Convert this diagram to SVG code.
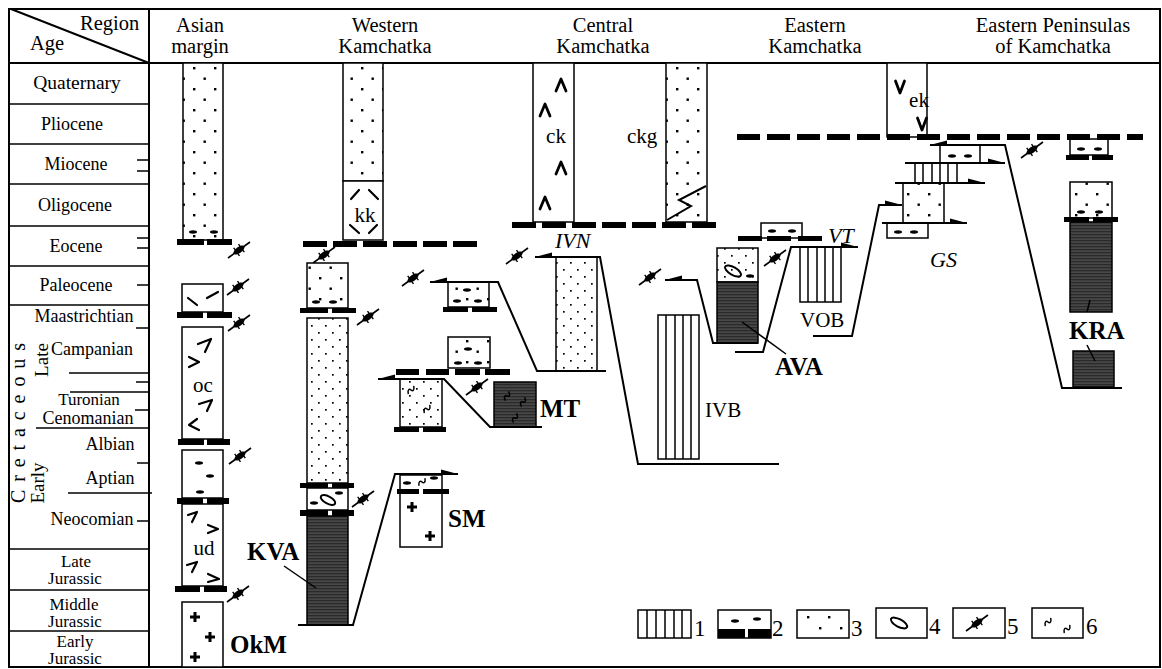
<svg xmlns="http://www.w3.org/2000/svg" width="1162" height="669" viewBox="0 0 1162 669">
<defs>
<style>
.t{font-family:"Liberation Serif","Times New Roman",serif;fill:#000}
.h{font-size:20.5px}
.a{font-size:18px}
.a2{font-size:17px}
.c{font-size:21px}
.b{font-size:25px;font-weight:bold}
.i{font-size:22px;font-style:italic}
.lg{font-size:23px}
.ln{fill:none;stroke:#000;stroke-width:2}
.bx{fill:#fff;stroke:#000;stroke-width:1.5}
.dc{fill:url(#dotC);stroke:#000;stroke-width:1.5}
.df{fill:url(#dotF);stroke:#000;stroke-width:1.5}
.dk{fill:url(#dark);stroke:#000;stroke-width:1.5}
.st{stroke:#000;stroke-width:1.5}
.mk{fill:none;stroke:#000;stroke-width:2.2;stroke-linecap:round;stroke-linejoin:round}
.mk2{fill:none;stroke:#000;stroke-width:2.8;stroke-linecap:round;stroke-linejoin:round}
.wv{fill:none;stroke:#000;stroke-width:1.5;stroke-linecap:round}
.pl{fill:none;stroke:#000;stroke-width:3}
.dsh{stroke:#000;stroke-width:6}
</style>
<pattern id="dotC" patternUnits="userSpaceOnUse" width="21" height="21"><rect width="21" height="21" fill="#fff"/><rect x="4" y="4" width="2.4" height="2.4" fill="#000"/><rect x="14.5" y="14.5" width="2.4" height="2.4" fill="#000"/></pattern>
<pattern id="dotF" patternUnits="userSpaceOnUse" width="14" height="14"><rect width="14" height="14" fill="#fff"/><rect x="3" y="3" width="1.7" height="1.7" fill="#000"/><rect x="10" y="10" width="1.7" height="1.7" fill="#000"/></pattern>
<pattern id="dark" patternUnits="userSpaceOnUse" width="4" height="3"><rect width="4" height="3" fill="#474747"/><rect width="4" height="1.3" fill="#2a2a2a"/></pattern>
<g id="flt"><line x1="-11" y1="8" x2="11" y2="-8" stroke="#000" stroke-width="1.6"/><ellipse rx="6.5" ry="3" transform="rotate(-36)" fill="#000"/><line x1="-5.3" y1="-2.2" x2="0.5" y2="5.8" stroke="#000" stroke-width="1.4"/><line x1="-0.5" y1="-5.8" x2="5.3" y2="2.2" stroke="#000" stroke-width="1.4"/></g>
<path id="hr" d="M0,0 L-17,-4.5 L-17,0.8Z" fill="#000"/>
<path id="hl" d="M0,0 L17,-4.5 L17,0.8Z" fill="#000"/>
<ellipse id="len" rx="4" ry="1.7" fill="#000"/>
<path id="car" d="M-5,6 L0,-6 L5,6" class="mk2"/>
<path id="vee" d="M-4.5,-6 L0,6 L4.5,-6" class="mk2"/>
<path id="wav" d="M-4,2 C-3,-2 -1,-2 0,0 C1,2 3,2 4,-2" class="wv"/>
<path id="plus" d="M-5,0 H5 M0,-5 V5" class="pl"/>
</defs>

<g id="frame">
<rect x="9" y="9" width="1151" height="658" fill="none" stroke="#000" stroke-width="2"/>
<line x1="9" y1="63" x2="1160" y2="63" class="ln"/>
<line x1="149" y1="9" x2="149" y2="667" class="ln"/>
<line x1="11" y1="9" x2="149" y2="63" class="ln"/>
<text class="t h" x="80" y="30">Region</text>
<text class="t h" x="30" y="50">Age</text>
</g>

<g id="age-scale" class="st">
<line x1="9" y1="104" x2="149" y2="104"/>
<line x1="9" y1="144" x2="149" y2="144"/>
<line x1="9" y1="184" x2="149" y2="184"/>
<line x1="9" y1="226" x2="149" y2="226"/>
<line x1="9" y1="266" x2="149" y2="266"/>
<line x1="9" y1="305" x2="149" y2="305"/>
<line x1="9" y1="549" x2="149" y2="549"/>
<line x1="9" y1="590" x2="149" y2="590"/>
<line x1="9" y1="631" x2="149" y2="631"/>
<line x1="137" y1="160" x2="149" y2="160"/>
<line x1="137" y1="171" x2="149" y2="171"/>
<line x1="137" y1="238" x2="149" y2="238"/>
<line x1="137" y1="248" x2="149" y2="248"/>
<line x1="137" y1="285" x2="149" y2="285"/>
<line x1="136" y1="328" x2="149" y2="328"/>
<line x1="69" y1="373" x2="149" y2="373"/>
<line x1="136" y1="382" x2="149" y2="382"/>
<line x1="70" y1="392" x2="149" y2="392"/>
<line x1="135" y1="410" x2="149" y2="410"/>
<line x1="36" y1="428" x2="149" y2="428"/>
<line x1="137" y1="463" x2="149" y2="463"/>
<line x1="68" y1="493" x2="152" y2="493"/>
<line x1="137" y1="521" x2="149" y2="521"/>
</g>
<g id="age-labels" class="t a" text-anchor="middle">
<text x="77" y="89" font-size="19.5">Quaternary</text>
<text x="72" y="130">Pliocene</text>
<text x="76" y="170">Miocene</text>
<text x="75" y="211">Oligocene</text>
<text x="76" y="252">Eocene</text>
<text x="76" y="291">Paleocene</text>
<text x="84" y="322">Maastrichtian</text>
<text x="92" y="355">Campanian</text>
<text x="89" y="405" class="a2">Turonian</text>
<text x="88" y="424">Cenomanian</text>
<text x="110" y="450">Albian</text>
<text x="110" y="484">Aptian</text>
<text x="92" y="525">Neocomian</text>
<text x="76" y="567" class="a2">Late</text>
<text x="75" y="584" class="a2">Jurassic</text>
<text x="74" y="610" class="a2">Middle</text>
<text x="75" y="627" class="a2">Jurassic</text>
<text x="75" y="647" class="a2">Early</text>
<text x="75" y="664" class="a2">Jurassic</text>
<text transform="translate(25,423) rotate(-90)" font-size="20" textLength="160" lengthAdjust="spacing">C r e t a c e o u s</text>
<text transform="translate(48,360) rotate(-90)" font-size="19">Late</text>
<text transform="translate(44,483) rotate(-90)" font-size="19">Early</text>
</g>

<g id="region-headers" class="t h" text-anchor="middle">
<text x="200" y="32">Asian</text>
<text x="200" y="53">margin</text>
<text x="385" y="32">Western</text>
<text x="385" y="53">Kamchatka</text>
<text x="603" y="32">Central</text>
<text x="603" y="53">Kamchatka</text>
<text x="815" y="32">Eastern</text>
<text x="815" y="53">Kamchatka</text>
<text x="1053" y="32">Eastern Peninsulas</text>
<text x="1053" y="53">of Kamchatka</text>
</g>

<g id="asian-margin">
<rect x="183" y="63" width="40" height="177" class="dc"/>
<use href="#len" x="193" y="232"/><use href="#len" x="214" y="232"/>
<rect x="177" y="239" width="27" height="6"/><rect x="207" y="239" width="25" height="6"/>
<use href="#flt" x="239" y="250"/>
<rect x="182" y="284" width="41" height="28" class="bx"/>
<path d="M188,298 L197,305 M207,298 L218,292" class="mk"/>
<rect x="177" y="312" width="26" height="6"/><rect x="207" y="312" width="25" height="6"/>
<use href="#flt" x="238" y="287"/>
<use href="#flt" x="239" y="323"/>
<rect x="182" y="327" width="41" height="112" class="bx"/>
<path d="M198,344 L211,339 L205,352 M189,357 L199,362 L189,367 M199,404 L212,400 L207,411 M199,430 L189,425 L197,419" class="mk"/>
<text class="t c" x="203" y="392" text-anchor="middle">oc</text>
<rect x="178" y="439" width="26" height="6"/><rect x="207" y="439" width="23" height="6"/>
<use href="#flt" x="240" y="456"/>
<rect x="182" y="450" width="41" height="48" class="bx"/>
<use href="#len" x="199" y="463"/><use href="#len" x="210" y="476"/><use href="#len" x="200" y="492"/>
<rect x="177" y="498" width="26" height="6"/><rect x="207" y="498" width="22" height="6"/>
<rect x="182" y="504" width="41" height="82" class="bx"/>
<path d="M188,515 L197,512 L192,522 M208,525 L218,529 L208,533 M187,565 L197,562 L192,572 M208,574 L219,579 L208,582" class="mk"/>
<text class="t c" x="204" y="555" text-anchor="middle">ud</text>
<rect x="175" y="586" width="25" height="6"/><rect x="204" y="586" width="23" height="6"/>
<use href="#flt" x="238" y="594"/>
<rect x="182" y="602" width="41" height="65" class="bx"/>
<use href="#plus" x="195" y="617"/><use href="#plus" x="210" y="637"/><use href="#plus" x="195" y="657"/>
<text class="t b" x="230" y="653">OkM</text>
</g>

<g id="western-kamchatka">
<rect x="343" y="63" width="40" height="118" class="dc"/>
<rect x="343" y="181" width="40" height="59" class="bx"/>
<path d="M351,199 L359,190 M369,190 L378,199 M350,225 L359,233 M369,233 L377,225" class="mk"/>
<text class="t c" x="365" y="222" text-anchor="middle">kk</text>
<use href="#flt" x="324" y="255"/>
<rect x="307" y="263" width="41" height="45" class="dc"/>
<use href="#len" x="316" y="302"/><use href="#len" x="333" y="302"/>
<rect x="300" y="308" width="28" height="5"/><rect x="332" y="308" width="24" height="5"/>
<use href="#flt" x="368" y="317"/>
<rect x="307" y="318" width="41" height="165" class="df"/>
<rect x="300" y="483" width="28" height="5"/><rect x="332" y="483" width="22" height="5"/>
<rect x="307" y="488" width="41" height="22" class="bx"/>
<ellipse cx="328" cy="500" rx="8" ry="3.6" transform="rotate(28 328 500)" fill="none" stroke="#000" stroke-width="2"/>
<use href="#len" x="314" y="503"/><use href="#len" x="339" y="493"/>
<rect x="300" y="510" width="28" height="6"/><rect x="332" y="510" width="22" height="6"/>
<use href="#flt" x="363" y="499"/>
<rect x="307" y="516" width="41" height="109" class="dk"/>
<text class="t b" x="247" y="560">KVA</text>
<line x1="284" y1="566" x2="316" y2="588" class="st"/>
</g>

<g id="sm">
<rect x="400" y="475" width="42" height="72" class="bx"/>
<use href="#len" x="407" y="483"/><use href="#wav" x="422" y="482" transform="rotate(-20 422 482)"/><use href="#len" x="434" y="478"/>
<rect x="397" y="489" width="22" height="5"/><rect x="423" y="489" width="26" height="5"/>
<use href="#plus" x="412" y="507"/><use href="#plus" x="430" y="536"/>
<text class="t b" x="448" y="527">SM</text>
</g>

<g id="staircase-mt">
<use href="#flt" x="413" y="278"/>
<rect x="448" y="282" width="41" height="25" class="dc"/>
<use href="#len" x="467" y="290"/><use href="#len" x="457" y="301"/><use href="#len" x="478" y="301"/>
<rect x="443" y="307" width="25" height="5"/><rect x="472" y="307" width="25" height="5"/>
<rect x="448" y="337" width="42" height="31" class="dc"/>
<use href="#len" x="468" y="349"/><use href="#len" x="458" y="363"/><use href="#len" x="478" y="363"/>
<rect x="396" y="369" width="23" height="6"/><rect x="426" y="369" width="23" height="6"/><rect x="455" y="369" width="25" height="6"/><rect x="485" y="369" width="25" height="6"/>
<rect x="400" y="379" width="42" height="48" class="df"/>
<use href="#wav" x="411" y="390" transform="rotate(-25 411 390)"/><use href="#wav" x="427" y="409" transform="rotate(-25 427 409)"/>
<rect x="394" y="427" width="25" height="5"/><rect x="423" y="427" width="23" height="5"/>
<use href="#flt" x="477" y="387"/>
<rect x="494" y="382" width="42" height="45" class="dk"/>
<use href="#wav" x="507" y="396" transform="rotate(-40 507 396)"/><use href="#wav" x="523" y="402" transform="rotate(-40 523 402)"/><use href="#wav" x="515" y="418" transform="rotate(-40 515 418)"/>
<text class="t b" x="540" y="417">MT</text>
</g>

<g id="central-kamchatka">
<rect x="533" y="63" width="41" height="159" class="bx"/>
<use href="#car" x="561" y="85"/><use href="#car" x="545" y="110"/><use href="#car" x="561" y="168"/><use href="#car" x="545" y="203"/>
<text class="t c" x="556" y="143" text-anchor="middle">ck</text>
<rect x="666" y="63" width="41" height="159" class="dc"/>
<path d="M667,220 L691,206 L679,200 L706,186" class="ln" stroke-width="1.6"/>
<text class="t c" x="627" y="143">ckg</text>
<use href="#flt" x="517" y="256"/>
<text class="t i" x="555" y="248">IVN</text>
<rect x="556" y="257" width="41" height="114" class="df"/>
<rect x="658" y="315" width="41" height="144" class="bx"/>
<path d="M666,315 V459 M675,315 V459 M683,315 V459 M691,315 V459" class="st"/>
<text class="t c" x="705" y="417">IVB</text>
</g>

<g id="eastern-kamchatka">
<use href="#flt" x="650" y="277"/>
<rect x="717" y="248" width="41" height="34" class="df"/>
<ellipse cx="733" cy="271" rx="9" ry="3.8" transform="rotate(30 733 271)" fill="none" stroke="#000" stroke-width="2"/>
<use href="#len" x="750" y="276"/>
<rect x="717" y="282" width="41" height="61" class="dk"/>
<rect x="761" y="223" width="41" height="15" class="bx"/>
<use href="#len" x="772" y="231"/><use href="#len" x="792" y="231"/>
<rect x="738" y="236" width="24" height="5"/><rect x="767" y="236" width="24" height="5"/><rect x="798" y="236" width="24" height="5"/>
<use href="#flt" x="775" y="258"/>
<rect x="800" y="247" width="41" height="55" class="bx"/>
<path d="M808,247 V302 M817,247 V302 M825,247 V302 M833,247 V302" class="st"/>
<text class="t c" x="800" y="327">VOB</text>
<text class="t i" x="828" y="243">VT</text>
<text class="t b" x="775" y="375">AVA</text>
<line x1="742" y1="322" x2="786" y2="354" class="st"/>
<rect x="887" y="63" width="40" height="74" class="bx"/>
<use href="#vee" x="900" y="87"/><use href="#vee" x="922" y="124"/>
<text class="t c" x="919" y="107" text-anchor="middle">ek</text>
</g>

<g id="gs">
<rect x="940" y="145" width="40" height="18" class="bx"/>
<use href="#len" x="952" y="156"/><use href="#len" x="968" y="156"/>
<rect x="915" y="163" width="42" height="20" class="bx"/>
<path d="M923,163 V183 M932,163 V183 M940,163 V183 M948,163 V183" class="st"/>
<rect x="903" y="183" width="41" height="40" class="dc"/>
<rect x="887" y="223" width="41" height="15" class="bx"/>
<use href="#len" x="898" y="232"/><use href="#len" x="914" y="232"/>
<text class="t i" x="930" y="267">GS</text>
</g>

<g id="eastern-peninsulas">
<use href="#flt" x="1032" y="150"/>
<rect x="1070" y="139" width="38" height="16" class="bx"/>
<use href="#len" x="1081" y="149"/><use href="#len" x="1098" y="149"/>
<rect x="1066" y="155" width="23" height="5"/><rect x="1092" y="155" width="21" height="5"/>
<rect x="1070" y="182" width="42" height="36" class="dc"/>
<use href="#len" x="1081" y="212"/><use href="#len" x="1099" y="212"/>
<rect x="1064" y="217" width="25" height="5"/><rect x="1093" y="217" width="25" height="5"/>
<rect x="1070" y="222" width="42" height="90" class="dk"/>
<rect x="1073" y="351" width="41" height="36" class="dk"/>
<text class="t b" x="1069" y="339">KRA</text>
<line x1="1090" y1="300" x2="1087" y2="312" class="st"/>
<line x1="1087" y1="345" x2="1095" y2="361" class="st"/>
</g>

<g id="connectors">
<line x1="303" y1="244" x2="477" y2="244" class="dsh" stroke-dasharray="24 6"/>
<line x1="512" y1="225" x2="716" y2="225" class="dsh" stroke-dasharray="24 6"/>
<line x1="737" y1="137" x2="1143" y2="137" class="dsh" stroke-dasharray="23 7"/>
<path d="M298,625 H353 L395,474 H458" class="ln"/><use href="#hr" x="458" y="474"/>
<path d="M430,282 H498 L537,371 H606" class="ln"/><use href="#hl" x="430" y="282"/>
<path d="M378,379 H444 L490,427 H542" class="ln"/><use href="#hl" x="378" y="379"/>
<path d="M535,257 H600 L638,464 H779" class="ln"/><use href="#hl" x="535" y="257"/>
<path d="M665,280 H697 L713,343 H758" class="ln"/><use href="#hl" x="665" y="280"/>
<path d="M735,352 H763 L791,247 H858" class="ln"/><use href="#hr" x="858" y="247"/>
<path d="M813,336 H852 L879,205 H902" class="ln"/><use href="#hr" x="902" y="205"/>
<path d="M930,145 H1005 L1062,388 H1122" class="ln"/><use href="#hl" x="930" y="145"/>
<path d="M905,163 H1005" class="ln"/><use href="#hr" x="1005" y="163"/>
<path d="M895,183 H985" class="ln"/><use href="#hr" x="985" y="183"/>
<path d="M882,223 H967" class="ln"/><use href="#hr" x="967" y="223"/>
</g>

<g id="legend">
<rect x="638" y="610" width="53" height="28" class="bx"/>
<path d="M647,610 V638 M656,610 V638 M665,610 V638 M674,610 V638 M682,610 V638" class="st"/>
<text class="t lg" x="694" y="636">1</text>
<rect x="718" y="610" width="53" height="28" class="bx"/>
<use href="#len" x="735" y="621"/><use href="#len" x="757" y="619"/>
<rect x="718" y="629" width="27" height="9"/><rect x="748" y="629" width="23" height="9"/>
<text class="t lg" x="772" y="636">2</text>
<rect x="797" y="610" width="52" height="28" class="bx"/>
<rect x="807" y="616" width="2.4" height="2.4"/><rect x="828" y="616" width="2.4" height="2.4"/><rect x="819" y="627" width="2.4" height="2.4"/><rect x="840" y="627" width="2.4" height="2.4"/>
<text class="t lg" x="851" y="636">3</text>
<rect x="876" y="608" width="51" height="30" class="bx"/>
<ellipse cx="899" cy="623" rx="9" ry="3.8" transform="rotate(28 899 623)" fill="none" stroke="#000" stroke-width="2"/>
<text class="t lg" x="929" y="634">4</text>
<rect x="953" y="608" width="52" height="30" class="bx"/>
<use href="#flt" x="977" y="623"/>
<text class="t lg" x="1007" y="634">5</text>
<rect x="1032" y="608" width="51" height="30" class="bx"/>
<use href="#wav" x="1048" y="622" transform="rotate(-25 1048 622)"/><use href="#wav" x="1067" y="629" transform="rotate(-25 1067 629)"/>
<text class="t lg" x="1086" y="634">6</text>
</g>
</svg>
